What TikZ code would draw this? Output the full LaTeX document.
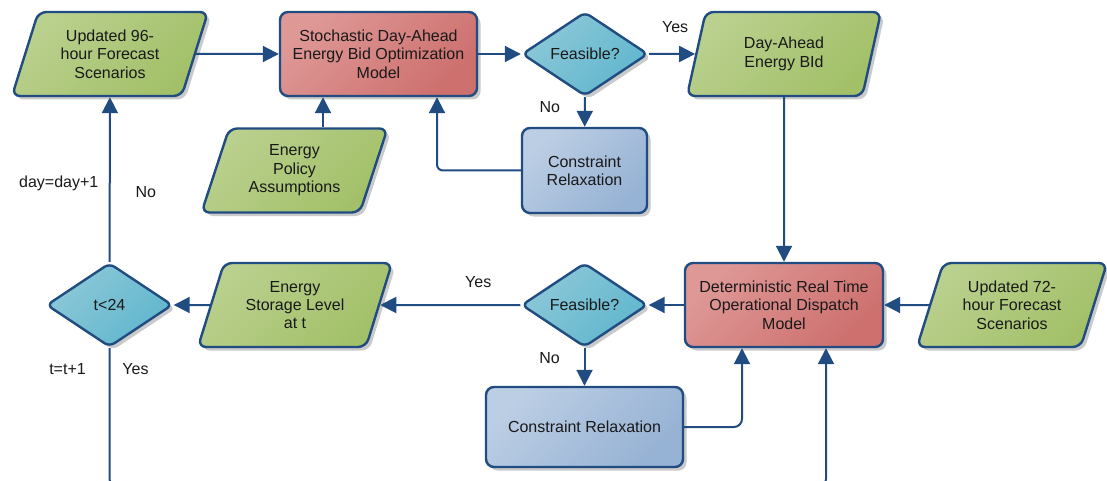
\documentclass[tikz,border=0pt]{standalone}
\usepackage{fontspec}
\setmainfont{Liberation Sans}
\usetikzlibrary{shapes.geometric,arrows.meta,shadows}
\definecolor{edgeblue}{RGB}{33,76,130}
\definecolor{greenL}{RGB}{186,208,142}
\definecolor{greenD}{RGB}{162,192,104}
\definecolor{redL}{RGB}{222,152,150}
\definecolor{redD}{RGB}{205,112,110}
\definecolor{cyanL}{RGB}{140,200,216}
\definecolor{cyanD}{RGB}{96,182,205}
\definecolor{slateL}{RGB}{188,206,228}
\definecolor{slateD}{RGB}{150,178,212}
\definecolor{txt}{RGB}{25,25,25}
\tikzset{
  base/.style={draw=edgeblue, line width=2.4pt, rounded corners=8pt, text=txt,
    font=\fontsize{16pt}{18.4pt}\selectfont, align=center, inner sep=2pt,
    drop shadow={shadow xshift=3.5pt, shadow yshift=-3.5pt, fill=black!35, opacity=0.6}},
  model/.style={base, rectangle, top color=redL, bottom color=redD, shading angle=45,
    minimum width=197pt, minimum height=84pt},
  data/.style={base, trapezium, trapezium left angle=63.4, trapezium right angle=116.6,
    trapezium stretches body=true, top color=greenL, bottom color=greenD, shading angle=45,
    minimum height=84pt},
  decision/.style={base, diamond, top color=cyanL, bottom color=cyanD, shading angle=45,
    minimum width=126pt, minimum height=84pt, inner sep=0pt, rounded corners=6pt},
  relax/.style={base, rectangle, top color=slateL, bottom color=slateD, shading angle=45,
    minimum height=84pt},
  arr/.style={draw=edgeblue, line width=2pt, -{Triangle[length=16pt,width=16pt]}},
  lbl/.style={font=\fontsize{16pt}{18.4pt}\selectfont, inner sep=0pt, text=txt}
}
\begin{document}
\begin{tikzpicture}[x=1pt,y=-1pt]
\useasboundingbox (0,0) rectangle (1107,481);
\coordinate (bot) at (0,487);
% top row
\node[data, minimum width=196pt] (f96) at (110,54) {Updated 96-\\hour Forecast\\Scenarios};
\node[model] (sdab) at (378.5,54) {Stochastic Day-Ahead\\Energy Bid Optimization\\Model};
\node[decision] (feas1) at (585,54) {Feasible?};
\node[data, minimum width=194pt] (dabid) at (784,54) {Day-Ahead\\Energy BId};
\node[data, minimum width=186pt] (epa) at (294.5,170.5) {Energy\\Policy\\Assumptions};
\node[relax, minimum width=125pt, minimum height=85pt] (cr1) at (584.5,170.5) {Constraint\\Relaxation};
% bottom row
\node[decision] (t24) at (109.5,305) {t<24};
\node[data, minimum width=194pt] (esl) at (295,305) {Energy\\Storage Level\\at t};
\node[decision] (feas2) at (584.5,305) {Feasible?};
\node[model, minimum width=198pt] (drt) at (784,305) {Deterministic Real Time\\Operational Dispatch\\Model};
\node[data, minimum width=190pt] (f72) at (1012,305) {Updated 72-\\hour Forecast\\Scenarios};
\node[relax, minimum width=197pt, minimum height=80pt] (cr2) at (584.5,427) {Constraint Relaxation};
% connectors
\draw[arr] (f96) -- (sdab);
\draw[arr] (sdab) -- (feas1);
\draw[arr] (feas1) -- node[lbl, xshift=3pt, yshift=27pt]{Yes} (dabid);
\draw[arr] (feas1) -- node[lbl, xshift=-35pt, yshift=5pt]{No} (cr1);
\draw[arr, rounded corners=6pt] (cr1.west) -| ([xshift=58.5pt]sdab.south);
\draw[arr] ([xshift=28.5pt]epa.north) -- ([xshift=28.5pt]epa.north |- sdab.south);
\draw[arr] (dabid) -- (drt);
\draw[arr] (f72) -- (drt);
\draw[arr] (drt) -- (feas2);
\draw[arr] (feas2) -- node[lbl, pos=0.3, yshift=23pt]{Yes} (esl);
\draw[arr] (feas2) -- node[lbl, pos=0.25, xshift=-35pt]{No} (cr2);
\draw[arr, rounded corners=8pt] (cr2.east) -| ([xshift=-42pt]drt.south);
\draw[arr] (esl) -- (t24);
\draw[arr] (t24) -- node[lbl, xshift=-51pt, yshift=-3.5pt]{day=day+1}
  node[lbl, xshift=36pt, yshift=-12.5pt]{No} (f96);
\draw[arr, rounded corners=8pt] (t24.south) -- node[lbl, pos=0.15, xshift=-42pt]{t=t+1}
  node[lbl, pos=0.15, xshift=26pt]{Yes} (t24.south |- bot) -| ([xshift=42pt]drt.south);
\end{tikzpicture}
\end{document}
